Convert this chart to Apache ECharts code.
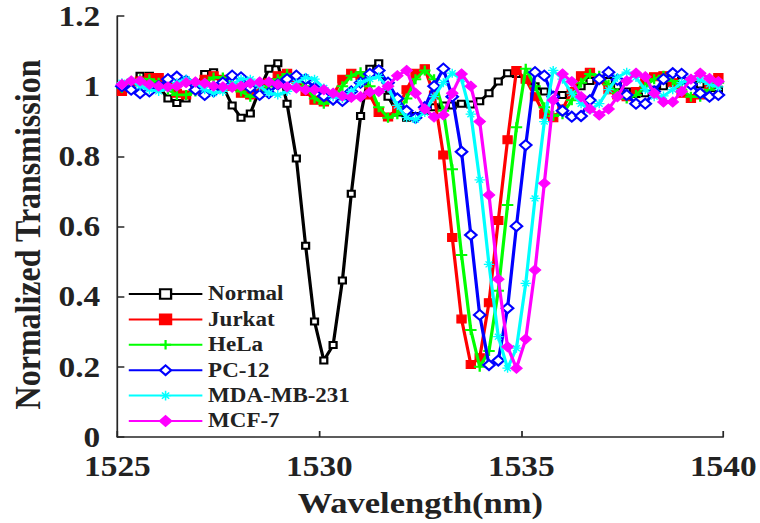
<!DOCTYPE html>
<html>
<head>
<meta charset="utf-8">
<script src="https://cdn.jsdelivr.net/npm/echarts@6/dist/echarts.min.js"></script>
<style>
  html, body { margin: 0; padding: 0; background: #fff; }
  #wrap { width: 760px; height: 523px; overflow: hidden; }
  /* the plot is drawn slightly narrower and stretched horizontally */
  #chart { width: 661px; height: 523px; transform: scaleX(1.1498); transform-origin: 0 0; }
</style>
</head>
<body>
<div id="wrap"><div id="chart"></div></div>
<script>
// Sample wavelengths (nm)
const wavelengths = [
  1525.11, 1525.34, 1525.56, 1525.79, 1526.02, 1526.25, 1526.47, 1526.70, 1526.93, 1527.16,
  1527.38, 1527.61, 1527.84, 1528.06, 1528.29, 1528.52, 1528.75, 1528.97, 1529.20, 1529.43,
  1529.66, 1529.88, 1530.11, 1530.34, 1530.57, 1530.79, 1531.02, 1531.25, 1531.47, 1531.70,
  1531.93, 1532.16, 1532.38, 1532.61, 1532.84, 1533.07, 1533.29, 1533.52, 1533.75, 1533.97,
  1534.20, 1534.43, 1534.66, 1534.88, 1535.11, 1535.34, 1535.57, 1535.79, 1536.02, 1536.25,
  1536.48, 1536.70, 1536.93, 1537.16, 1537.38, 1537.61, 1537.84, 1538.07, 1538.29, 1538.52,
  1538.75, 1538.97, 1539.20, 1539.43, 1539.66, 1539.88
];

// Normalized transmission of each sample
const normal = [
  0.99, 1.01, 1.03, 1.03, 1.0, 0.965, 0.952, 0.965, 1.0, 1.035,
  1.04, 1.0, 0.945, 0.91, 0.922, 0.99, 1.05, 1.065, 0.95, 0.794,
  0.545, 0.329, 0.218, 0.262, 0.446, 0.693, 0.915, 1.05, 1.065, 0.97,
  0.925, 0.91, 0.915, 0.93, 0.94, 0.945, 0.945, 0.95, 0.948, 0.957,
  0.98, 1.013, 1.037, 1.035, 1.02, 1.0, 0.985, 0.975, 0.975, 0.985,
  1.0, 1.015, 1.02, 1.015, 1.0, 0.985, 0.978, 0.98, 0.99, 1.0,
  1.01, 1.015, 1.012, 1.005, 0.995, 0.99
];
const jurkat = [
  0.985, 1.0, 1.015, 1.025, 1.025, 1.0, 0.98, 0.975, 0.99, 1.02,
  1.03, 1.02, 1.0, 0.98, 0.975, 0.985, 1.01, 1.03, 1.037, 1.02,
  0.985, 0.96, 0.955, 0.975, 1.02, 1.037, 1.03, 0.975, 0.925, 0.912,
  0.935, 0.99, 1.037, 1.05, 0.975, 0.804, 0.569, 0.336, 0.207, 0.226,
  0.383, 0.617, 0.847, 1.045, 1.02, 0.97, 0.92, 0.91, 0.935, 0.985,
  1.03, 1.04, 1.02, 0.99, 0.975, 0.97, 0.985, 1.01, 1.027, 1.03,
  1.01, 0.98, 0.965, 0.975, 1.0, 1.025
];
const hela = [
  0.995, 1.01, 1.02, 1.02, 1.01, 0.99, 0.975, 0.975, 0.985, 1.01,
  1.025, 1.025, 1.005, 0.985, 0.97, 0.975, 1.0, 1.02, 1.035, 1.03,
  1.0, 0.965, 0.95, 0.96, 1.0, 1.03, 1.04, 1.0, 0.94, 0.91,
  0.92, 0.965, 1.02, 1.045, 1.02, 0.93, 0.763, 0.519, 0.305, 0.2,
  0.245, 0.417, 0.661, 0.883, 1.05, 1.0, 0.94, 0.915, 0.92, 0.96,
  1.01, 1.035, 1.03, 1.005, 0.98, 0.965, 0.975, 1.0, 1.02, 1.03,
  1.015, 0.99, 0.97, 0.97, 0.99, 1.01
];
const pc12 = [
  1.0, 0.99, 0.98, 0.985, 1.0, 1.02, 1.027, 1.015, 0.99, 0.975,
  0.985, 1.01, 1.03, 1.025, 0.995, 0.975, 0.98, 1.005, 1.02, 1.03,
  1.02, 0.995, 0.972, 0.962, 0.958, 0.985, 1.01, 1.035, 1.045, 1.01,
  0.965, 0.93, 0.91, 0.94, 1.0, 1.05, 0.97, 0.813, 0.576, 0.348,
  0.205, 0.218, 0.367, 0.601, 0.832, 1.04, 1.03, 0.97, 0.93, 0.913,
  0.915, 0.96, 1.02, 1.04, 1.018, 0.975, 0.95, 0.95, 0.985, 1.02,
  1.037, 1.035, 1.005, 0.98, 0.97, 0.975
];
const mdamb231 = [
  1.01, 1.015, 1.0, 0.99, 0.985, 0.995, 1.01, 1.02, 1.01, 0.99,
  0.98, 0.985, 1.005, 1.02, 1.02, 1.0, 0.98, 0.975, 0.985, 1.01,
  1.025, 1.02, 0.995, 0.97, 0.965, 0.985, 1.01, 1.02, 1.027, 0.995,
  0.945, 0.91, 0.905, 0.925, 0.97, 1.01, 1.037, 1.02, 0.92, 0.733,
  0.492, 0.286, 0.196, 0.253, 0.438, 0.68, 0.899, 1.045, 1.02, 0.98,
  0.95, 0.932, 0.95, 0.99, 1.025, 1.04, 1.025, 0.99, 0.97, 0.972,
  0.99, 1.01, 1.022, 1.018, 1.005, 0.998
];
const mcf7 = [
  1.005, 1.015, 1.015, 1.005, 1.0, 0.998, 1.0, 1.01, 1.012, 1.008,
  1.0, 0.998, 0.997, 1.0, 1.008, 1.012, 1.012, 1.005, 0.998, 0.995,
  0.99, 0.99, 0.99, 0.98, 0.972, 0.968, 0.97, 0.983, 0.985, 1.0,
  1.03, 1.045, 0.98, 0.935, 0.912, 0.918, 0.98, 1.035, 1.0, 0.899,
  0.69, 0.45, 0.257, 0.196, 0.279, 0.476, 0.723, 0.96, 1.035, 1.013,
  0.97, 0.935, 0.918, 0.935, 0.97, 1.015, 1.037, 1.027, 0.98, 0.955,
  0.955, 0.985, 1.02, 1.037, 1.022, 1.013
];

const seriesNames = ['Normal', 'Jurkat', 'HeLa', 'PC-12', 'MDA-MB-231', 'MCF-7'];
const seriesValues = [normal, jurkat, hela, pc12, mdamb231, mcf7];
const seriesColors = ['#000000', '#ff0000', '#00ff00', '#0000ff', '#00ffff', '#ff00ff'];

const xTicks = { min: 1525, max: 1540, step: 5 };
const yTicks = { min: 0, max: 1.2, step: 0.2 };

// marker shapes: plus sign and asterisk
const PLUS = 'path://M4,0H6V4H10V6H6V10H4V6H0V4H4Z';
const STAR = 'path://M4.3,0H5.7V10H4.3Z M0,4.3H10V5.7H0Z M1.2,2.2L2.2,1.2L8.8,7.8L7.8,8.8Z M7.8,1.2L8.8,2.2L2.2,8.8L1.2,7.8Z';
const seriesSymbols = ['emptyRect', 'rect', PLUS, 'emptyDiamond', STAR, 'diamond'];
const seriesSymbolSizes = [6, 8, 10, 10, 9, 10];
const seriesBorders = [3, 1, 0, 2, 0, 1];

const FONT = "'Liberation Serif', 'Times New Roman', serif";
const INK = '#222222';

const chart = echarts.init(document.getElementById('chart'), null, { renderer: 'svg' });

chart.setOption({
  animation: false,
  backgroundColor: '#ffffff',
  grid: { left: 100, right: 29, top: 16, bottom: 86, containLabel: false },
  legend: {
    orient: 'vertical',
    left: 111,
    top: 284,
    padding: 0,
    itemWidth: 64,
    itemHeight: 12,
    itemGap: 5.4,
    selectedMode: false,
    data: seriesNames,
    textStyle: { fontFamily: FONT, fontWeight: 'bold', fontSize: 20, lineHeight: 20, color: INK }
  },
  xAxis: {
    type: 'value',
    min: xTicks.min,
    max: xTicks.max,
    interval: xTicks.step,
    name: 'Wavelength(nm)',
    nameLocation: 'middle',
    nameGap: 51,
    nameTextStyle: { fontFamily: FONT, fontWeight: 'bold', fontSize: 30, color: INK },
    axisLine: { show: true, lineStyle: { color: '#262626', width: 1.5 } },
    axisTick: { show: true, inside: true, length: 6, lineStyle: { color: '#262626', width: 1.5 } },
    splitLine: { show: false },
    axisLabel: {
      margin: 15, fontFamily: FONT, fontWeight: 'bold', fontSize: 29, color: INK,
      formatter: v => String(v)
    }
  },
  yAxis: {
    type: 'value',
    min: yTicks.min,
    max: yTicks.max,
    interval: yTicks.step,
    name: 'Normalized Transmission',
    nameLocation: 'middle',
    nameGap: 58,
    nameTextStyle: { fontFamily: FONT, fontWeight: 'bold', fontSize: 32, color: INK, padding: [0, 16, 0, 0] },
    axisLine: { show: true, lineStyle: { color: '#262626', width: 1.5 } },
    axisTick: { show: true, inside: true, length: 6, lineStyle: { color: '#262626', width: 1.5 } },
    splitLine: { show: false },
    axisLabel: {
      margin: 15, fontFamily: FONT, fontWeight: 'bold', fontSize: 29, color: INK,
      formatter: v => String(Math.round(v * 10) / 10)
    }
  },
  series: seriesNames.map((name, s) => ({
    name: name,
    type: 'line',
    data: wavelengths.map((w, i) => [w, seriesValues[s][i]]),
    symbol: seriesSymbols[s],
    symbolSize: seriesSymbolSizes[s],
    showAllSymbol: true,
    smooth: false,
    color: seriesColors[s],
    lineStyle: { color: seriesColors[s], width: 2.8 },
    itemStyle: { color: seriesColors[s], borderColor: seriesColors[s], borderWidth: seriesBorders[s] },
    emphasis: { disabled: true },
    z: 2 + s
  }))
});
</script>
</body>
</html>
